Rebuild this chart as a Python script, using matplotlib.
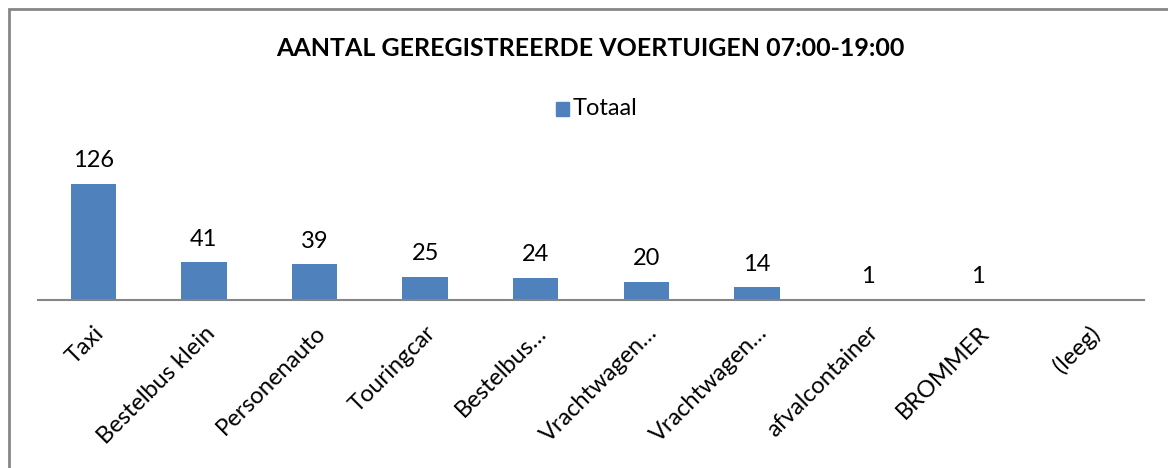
import matplotlib.pyplot as plt
from matplotlib.patches import Rectangle

categories = ['Taxi', 'Bestelbus klein', 'Personenauto', 'Touringcar', 'Bestelbus…',
              'Vrachtwagen…', 'Vrachtwagen…', 'afvalcontainer', 'BROMMER', '(leeg)']
totaal = [126, 41, 39, 25, 24, 20, 14, 1, 1, 0]
title = 'AANTAL GEREGISTREERDE VOERTUIGEN 07:00-19:00'
series_name = 'Totaal'

BAR = '#4F81BD'
FONT = ['Lato', 'DejaVu Sans']
W, H = 1168, 468

plt.rcParams['font.family'] = FONT

fig = plt.figure(figsize=(W / 100, H / 100), dpi=100)
ax = fig.add_axes([38 / W, (H - 300) / H, (1144 - 38) / W, 129 / H])

x = list(range(len(categories)))
ax.bar(x, totaal, width=0.41, color=BAR, zorder=2)
for xi, v in zip(x, totaal):
    if v > 0:
        ax.annotate(str(v), (xi, v), xytext=(0, 9), textcoords='offset points',
                    ha='center', va='bottom', fontsize=17, color='#000000')

ax.set_xlim(-0.5, len(categories) - 0.5)
ax.set_ylim(0, 140)
ax.set_yticks([])
for s in ['top', 'right', 'left']:
    ax.spines[s].set_visible(False)
ax.spines['bottom'].set_color('#868686')
ax.spines['bottom'].set_linewidth(1.5)
ax.set_xticks(x)
ax.set_xticklabels(categories, rotation=45, ha='right', rotation_mode='anchor', fontsize=17)
ax.tick_params(axis='x', length=0, pad=16)

fig.text(590 / W, 1 - 48 / H, title, ha='center', va='center', fontsize=18, fontweight='bold')

# legend
fig.patches.append(Rectangle((556 / W, 1 - 116 / H), 13 / W, 14 / H,
                             transform=fig.transFigure, color=BAR))
fig.text(573 / W, 1 - 108 / H, series_name, ha='left', va='center', fontsize=17)

# outer chart border
fig.patches.append(Rectangle((9 / W, -0.1), 1.2, 1 - 9 / H + 0.1,
                             transform=fig.transFigure, fill=False,
                             edgecolor='#868686', linewidth=2))

fig.savefig('out.png', dpi=100)
